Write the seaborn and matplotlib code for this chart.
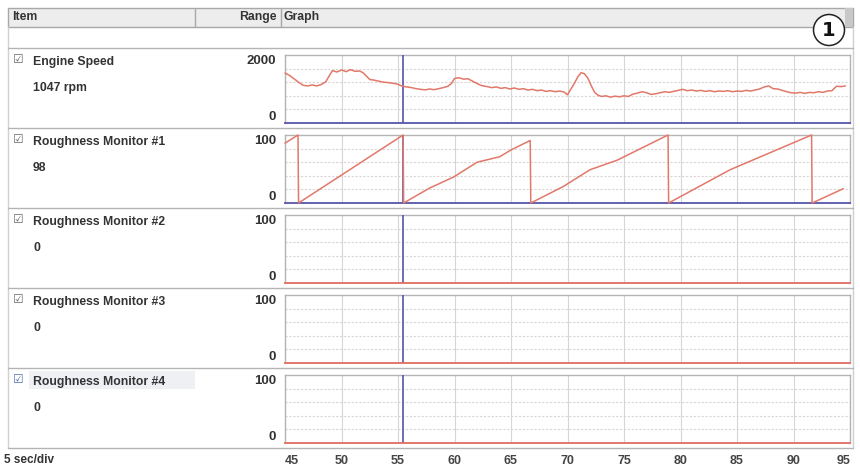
import numpy as np
import seaborn as sns
import matplotlib.pyplot as plt
from matplotlib.patches import Rectangle, Ellipse
from matplotlib.lines import Line2D

# ---- data ----
channels = ['Engine Speed', 'Roughness Monitor #1', 'Roughness Monitor #2',
            'Roughness Monitor #3', 'Roughness Monitor #4']
current_values = ['1047 rpm', '98', '0', '0', '0']
range_max = [2000, 100, 100, 100, 100]
time_ticks = [45, 50, 55, 60, 65, 70, 75, 80, 85, 90, 95]
cursor_time = 55.4

rpm_time = [45.0, 45.4, 45.8, 46.2, 46.6, 47.0, 47.4, 47.8, 48.2, 48.6, 48.9, 49.2,
            49.6, 50.0, 50.4, 50.8, 51.2, 51.6, 51.9, 52.2, 52.5, 52.9, 53.3, 53.7,
            54.1, 54.5, 54.9, 55.4, 55.8, 56.2, 56.6, 57.0, 57.4, 57.8, 58.2, 58.6,
            59.0, 59.4, 59.7, 60.0, 60.4, 60.8, 61.2, 61.6, 62.0, 62.4, 62.9, 63.3,
            63.7, 64.1, 64.5, 64.9, 65.3, 65.7, 66.1, 66.5, 66.9, 67.3, 67.7, 68.1,
            68.5, 68.9, 69.3, 69.7, 70.0, 70.3, 70.6, 70.9, 71.2, 71.5, 71.8, 72.1,
            72.4, 72.7, 73.0, 73.4, 73.8, 74.2, 74.6, 75.0, 75.4, 75.8, 76.2, 76.6,
            77.0, 77.4, 77.8, 78.2, 78.6, 79.0, 79.4, 79.8, 80.2, 80.6, 81.0, 81.4,
            81.8, 82.2, 82.6, 83.0, 83.4, 83.8, 84.2, 84.6, 85.0, 85.4, 85.8, 86.2,
            86.6, 87.0, 87.4, 87.8, 88.2, 88.6, 89.0, 89.4, 89.8, 90.2, 90.6, 91.0,
            91.4, 91.8, 92.2, 92.6, 93.0, 93.4, 93.8, 94.2, 94.6]
rpm_value = [1470, 1400, 1300, 1200, 1110, 1090, 1120, 1090, 1130, 1210, 1380, 1540,
             1500, 1560, 1510, 1570, 1520, 1530, 1480, 1380, 1280, 1260, 1230, 1200,
             1190, 1170, 1150, 1080, 1060, 1040, 1010, 990, 975, 1000, 980, 1010,
             1040, 1080, 1150, 1310, 1330, 1290, 1300, 1230, 1160, 1100, 1070, 1040,
             1060, 1020, 1040, 1000, 1030, 990, 1010, 970, 990, 950, 970, 930,
             950, 920, 940, 910, 830, 1000, 1160, 1350, 1480, 1450, 1320, 1100,
             900, 820, 780, 800, 760, 790, 770, 800, 780, 850, 880, 920,
             890, 840, 860, 890, 920, 900, 930, 960, 990, 950, 970, 940,
             960, 930, 950, 920, 940, 930, 950, 920, 940, 930, 960, 940,
             970, 1000, 1060, 1090, 1010, 1000, 960, 920, 890, 880, 900, 870,
             900, 890, 920, 900, 940, 950, 1080, 1070, 1090]

rough1_time = [45.0, 46.15, 46.2, 55.45, 55.5, 57.8, 59.9, 62.0, 63.0, 64.0, 65.0,
               66.7, 66.75, 69.6, 72.0, 74.4, 78.9, 78.95, 84.4, 91.6, 91.65, 94.4]
rough1_value = [88, 100, 0, 100, 0, 22, 38, 60, 64, 68, 78,
                92, 0, 24, 49, 63, 100, 0, 49, 100, 0, 21]

flat_time = [45, 95]
flat_value = [0, 0]

series = [(rpm_time, rpm_value), (rough1_time, rough1_value),
          (flat_time, flat_value), (flat_time, flat_value), (flat_time, flat_value)]

sns.set_style('white')
plt.rcParams['font.family'] = ['Liberation Sans', 'DejaVu Sans']

W, H = 860, 470
fig = plt.figure(figsize=(8.6, 4.7), dpi=100)
fig.patch.set_facecolor('white')

txt_col = '#333333'
line_col = '#e2786a'
cursor_col = '#5555aa'
grid_col = '#d6d6d6'
border_col = '#b4b4b4'


def fx(x):
    return x / W


def fy(y):
    return 1 - y / H


def label(x, y, s, **kw):
    kw.setdefault('color', txt_col)
    kw.setdefault('fontsize', 8.8)
    kw.setdefault('fontweight', 'bold')
    kw.setdefault('va', 'center')
    fig.text(fx(x), fy(y), s, **kw)


def hline(y, x0=8, x1=853, color=border_col, lw=1.0):
    fig.add_artist(Line2D([fx(x0), fx(x1)], [fy(y), fy(y)], color=color, lw=lw,
                          transform=fig.transFigure))


# header bar
fig.add_artist(Rectangle((fx(8), fy(27)), fx(845), 19 / H, transform=fig.transFigure,
                         facecolor='#ededed', edgecolor='#a8a8a8', lw=1))
fig.add_artist(Rectangle((fx(845), fy(27)), fx(8), 19 / H, transform=fig.transFigure,
                         facecolor='#c8c8c8', edgecolor='none'))
for xs in [195, 281]:
    fig.add_artist(Line2D([fx(xs), fx(xs)], [fy(9), fy(27)], color='#a8a8a8', lw=1,
                          transform=fig.transFigure))
label(12, 17, 'Item')
label(277, 17, 'Range', ha='right')
label(284, 17, 'Graph')

# outer frame
fig.add_artist(Line2D([fx(8), fx(8)], [fy(27), fy(448)], color='#d0d0d0', lw=1,
                      transform=fig.transFigure))
fig.add_artist(Line2D([fx(853), fx(853)], [fy(27), fy(448)], color='#d0d0d0', lw=1,
                      transform=fig.transFigure))

row_top = [48, 128, 208, 288, 368]
for i, name in enumerate(channels):
    top = row_top[i]
    hline(top)
    if i == 4:
        fig.add_artist(Rectangle((fx(29), fy(389)), fx(166), 18 / H,
                                 transform=fig.transFigure, facecolor='#eef0f4',
                                 edgecolor='none'))
    label(13, top + 11, '\u2611', fontsize=8.5, fontweight='normal',
          color='#4a6fb0' if i == 4 else '#666666',
          family=['DejaVu Sans'])
    label(33, top + 14, name)
    label(33, top + 40, current_values[i])
    label(276, top + 13, str(range_max[i]), ha='right', fontsize=9.5)
    label(276, top + 69, '0', ha='right', fontsize=9.5)

    ax = fig.add_axes([fx(285), fy(top + 75), fx(565), 68 / H])
    t, v = series[i]
    ax.axvline(cursor_time, color=cursor_col, lw=1.2, zorder=3)
    sns.lineplot(x=t, y=v, ax=ax, color=line_col, linewidth=1.1, clip_on=False,
                 zorder=5)
    ax.set_xlim(45, 95)
    ax.set_ylim(0, range_max[i])
    ax.set_xticks(time_ticks)
    ax.set_yticks([range_max[i] * k / 5 for k in range(1, 5)])
    ax.grid(axis='x', color=grid_col, lw=0.8)
    ax.grid(axis='y', color='#dcd4d4', lw=0.8, ls=(0, (2, 1.5)))
    ax.tick_params(length=0, labelbottom=False, labelleft=False)
    ax.set_xlabel('')
    ax.set_ylabel('')
    for sp in ax.spines.values():
        sp.set_color(border_col)
        sp.set_linewidth(1.0)
    # flat channels sit on the zero line, so their trace covers the bottom edge
    ax.spines['bottom'].set_color(cursor_col if i < 2 else line_col)
    ax.spines['bottom'].set_linewidth(1.3)

hline(448)

# time axis
label(4, 460, '5 sec/div', fontsize=8.5)
for tk in time_ticks:
    xp = 285 + (tk - 45) * 565 / 50
    if tk == 45:
        xp += 7
    if tk == 95:
        xp -= 6
    label(xp, 461, str(tk), ha='center', fontsize=9, color='#444444')

# callout marker
fig.add_artist(Ellipse((fx(829), fy(30)), 31 / W, 31 / H, transform=fig.transFigure,
                       facecolor='white', edgecolor='#222222', lw=1.1))
label(829, 31, '1', ha='center', fontsize=14, color='#111111', family=['DejaVu Sans'])

fig.savefig('out.png', dpi=100)
